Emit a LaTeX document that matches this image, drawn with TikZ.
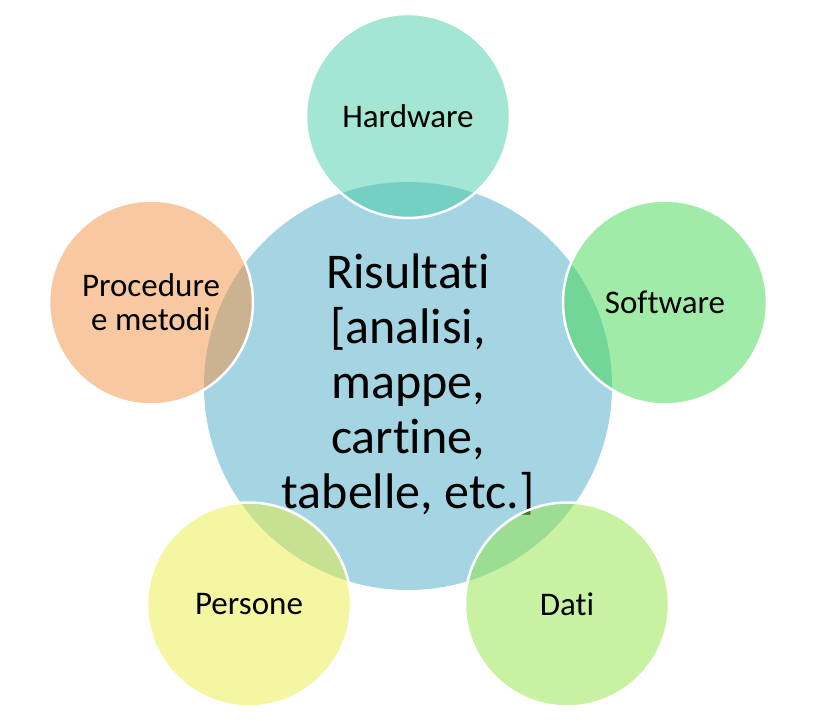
\documentclass[tikz,border=0pt]{standalone}
\usepackage{fontspec}
\setmainfont[RawFeature={-liga;-clig;-dlig;-calt}]{Carlito}
\definecolor{cblue}{RGB}{165,213,226}
\definecolor{chard}{RGB}{71,205,167}
\definecolor{csoft}{RGB}{67,215,81}
\definecolor{cdati}{RGB}{145,229,69}
\definecolor{cpers}{RGB}{233,237,69}
\definecolor{cproc}{RGB}{241,147,67}
\tikzset{
  outer/.style={circle, minimum size=204pt, inner sep=0pt, draw=white, line width=2.5pt, fill opacity=0.5, text opacity=1, align=center, font=\fontsize{33}{34}\selectfont},
  centre/.style={circle, minimum size=408pt, inner sep=0pt, fill=cblue},
  centretext/.style={align=center, font=\fontsize{50}{55}\selectfont}
}
\begin{document}
\begin{tikzpicture}[x=1pt,y=-1pt]
\useasboundingbox (0,0) rectangle (829,720);
\node[centre] (c) at (408,386) {};
\node[centretext] (ct) at (408,385) {Risultati\\{}[analisi,\\mappe,\\cartine,\\tabelle, etc.]};
\node[outer, fill=chard] (h) at (408,116) {Hardware};
\node[outer, fill=csoft] (s) at (665,302.5) {Software};
\node[outer, fill=cdati] (d) at (567,604.5) {Dati};
\node[outer, fill=cpers] (p) at (249,604.5) {Persone};
\node[outer, fill=cproc] (m) at (151,302.5) {Procedure\\e metodi};
\end{tikzpicture}
\end{document}
